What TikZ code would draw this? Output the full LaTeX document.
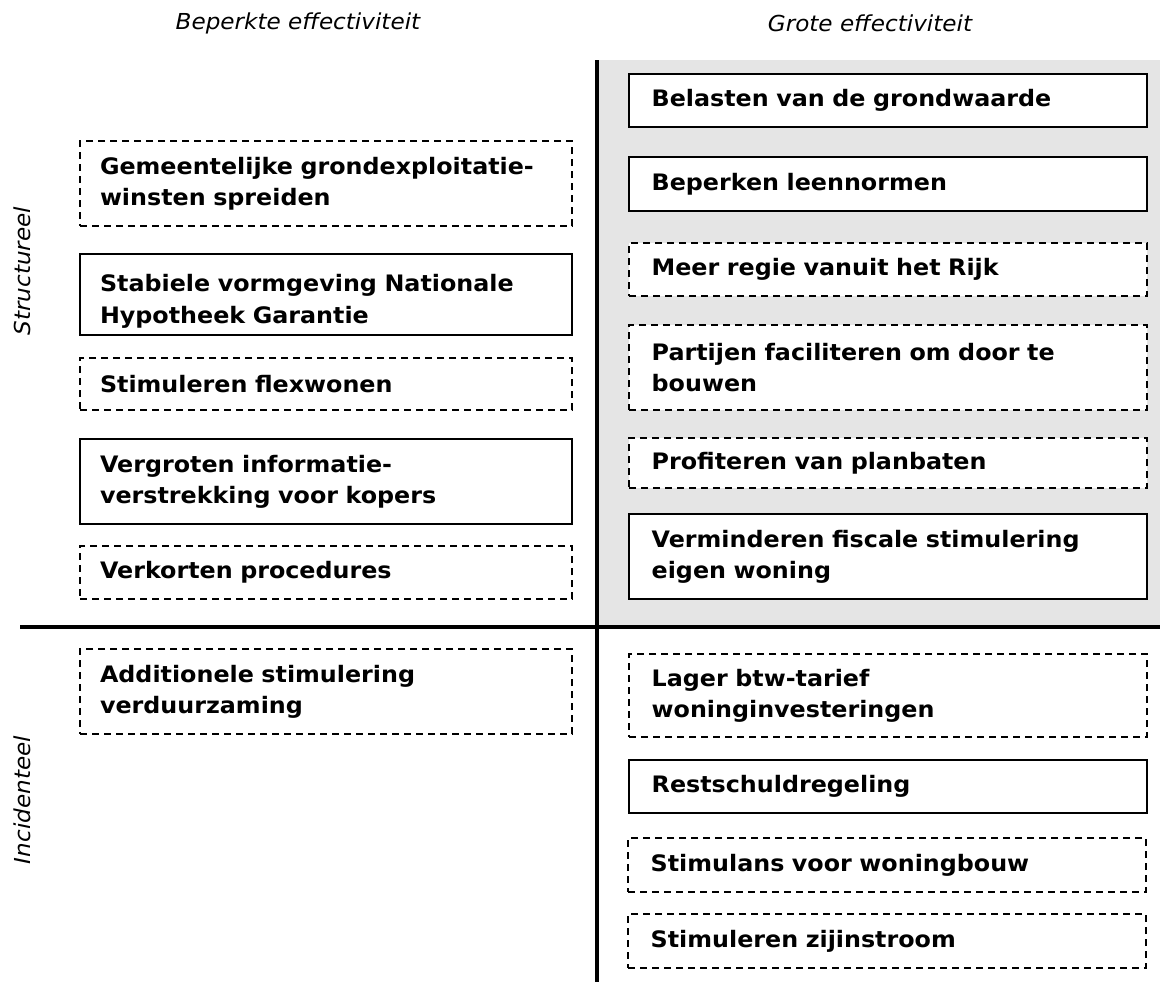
\documentclass[tikz,border=0pt]{standalone}
\usepackage{fontspec}
\setmainfont{DejaVu Sans}[FakeStretch=1.05]
\usepackage{xcolor}
\definecolor{quadgrey}{RGB}{229,229,229}

\begin{document}
\begin{tikzpicture}[
    x=0.75pt, y=-0.75pt,
    lbox/.style={rectangle, minimum width=369pt, text width=339pt, inner xsep=15pt,
        align=left, font=\fontsize{17}{23.5}\selectfont\bfseries, fill=white, line width=1.2pt},
    rbox/.style={rectangle, minimum width=388.5pt, text width=354.5pt, inner xsep=17pt,
        align=left, font=\fontsize{17}{23.5}\selectfont\bfseries, fill=white, line width=1.2pt},
    solid box/.style={draw},
    dash box/.style={draw, dash pattern=on 5.5pt off 3.5pt},
    header/.style={font=\fontsize{16.5}{19}\selectfont\itshape},
    axis/.style={line width=3pt}
]
\useasboundingbox (0,0) rectangle (1167,982);

% grey quadrant (structureel / grote effectiviteit)
\fill[quadgrey] (597,60) rectangle (1160,627);

% axes
\coordinate (vtop) at (597,60);
\coordinate (vbot) at (597,982);
\coordinate (hleft) at (20,627);
\coordinate (hright) at (1160,627);
\draw[axis] (vtop) -- (vbot);
\draw[axis] (hleft) -- (hright);

% column and row labels
\node[header] (beperkt) at (298,23) {Beperkte effectiviteit};
\node[header] (groot) at (870,23) {Grote effectiviteit};
\node[header, rotate=90] (struct) at (22,271) {Structureel};
\node[header, rotate=90] (incid) at (22,800) {Incidenteel};

% left column
\node[lbox, dash box, minimum height=63.75pt] (l1) at (326,183.5) {Gemeentelijke grondexploitatie-\\winsten spreiden};
\node[lbox, solid box, minimum height=60.75pt] (l2) at (326,294.5) {\rule{0pt}{23pt}Stabiele vormgeving Nationale\\Hypotheek Garantie};
\node[lbox, dash box, minimum height=39pt] (l3) at (326,384) {Stimuleren flexwonen};
\node[lbox, solid box, minimum height=63.75pt] (l4) at (326,481.5) {Vergroten informatie-\\verstrekking voor kopers};
\node[lbox, dash box, minimum height=39.75pt] (l5) at (326,572.5) {Verkorten procedures};
\node[lbox, dash box, minimum height=63.75pt] (l6) at (326,691.5) {Additionele stimulering\\verduurzaming};

% right column
\node[rbox, solid box, minimum height=39.75pt] (r1) at (888,100.5) {Belasten van de grondwaarde};
\node[rbox, solid box, minimum height=40.5pt] (r2) at (888,184) {Beperken leennormen};
\node[rbox, dash box, minimum height=39.75pt] (r3) at (888,269.5) {Meer regie vanuit het Rijk};
\node[rbox, dash box, minimum height=63.75pt] (r4) at (888,367.5) {Partijen faciliteren om door te\\bouwen};
\node[rbox, dash box, minimum height=37.5pt] (r5) at (888,463) {Profiteren van planbaten};
\node[rbox, solid box, minimum height=63.75pt] (r6) at (888,556.5) {Verminderen fiscale stimulering\\eigen woning};
\node[rbox, dash box, minimum height=62.25pt] (r7) at (888,695.5) {Lager btw-tarief\\woninginvesteringen};
\node[rbox, solid box, minimum height=39.75pt] (r8) at (888,786.5) {Restschuldregeling};
\node[rbox, dash box, minimum height=40.5pt] (r9) at (887,865) {Stimulans voor woningbouw};
\node[rbox, dash box, minimum height=40.5pt] (r10) at (887,941) {Stimuleren zijinstroom};

\end{tikzpicture}
\end{document}
